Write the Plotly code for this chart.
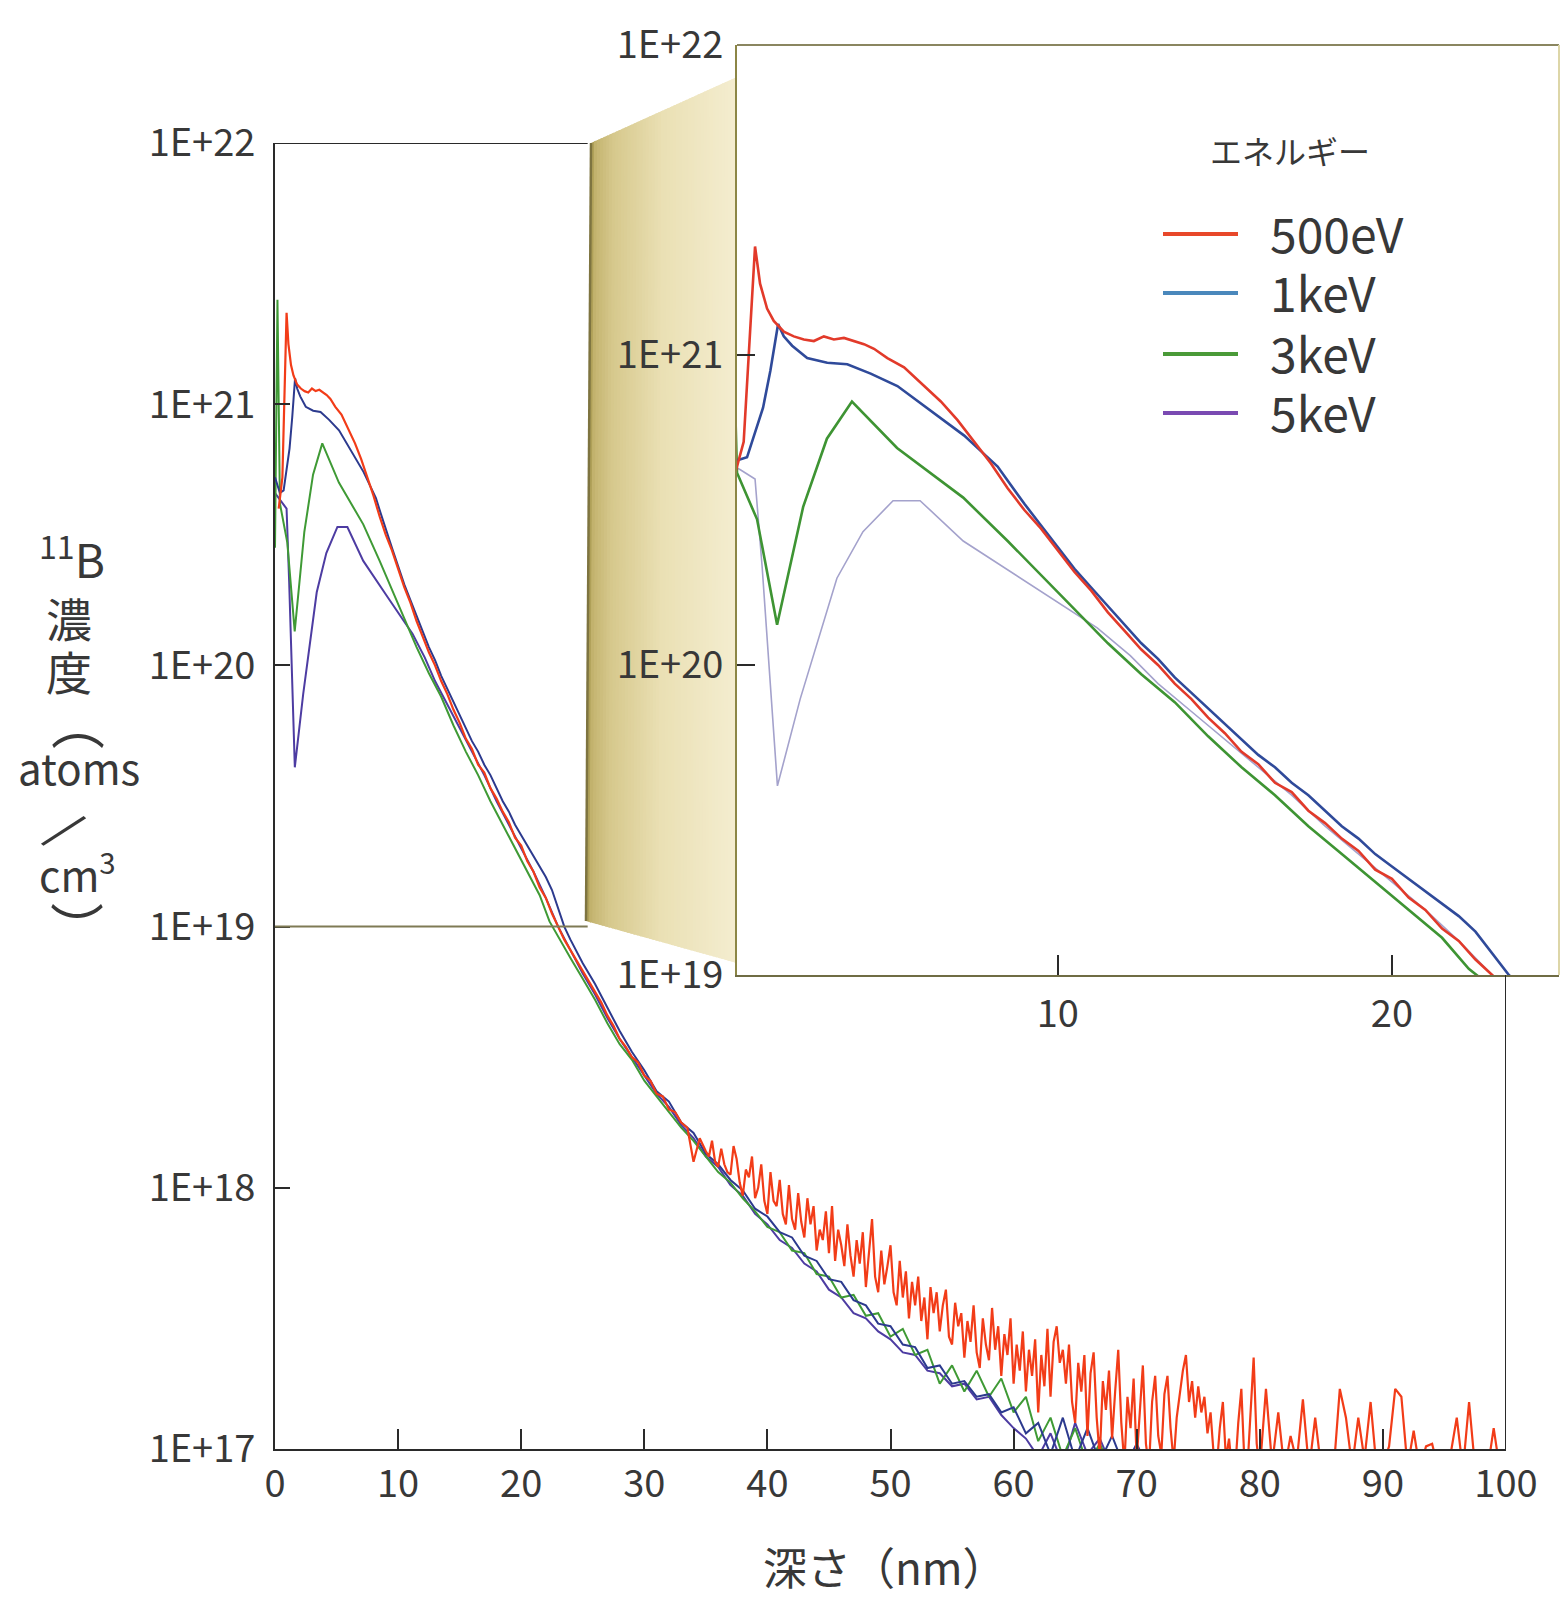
import numpy as np
import plotly.graph_objects as go

# ---------------------------------------------------------------
# 11B depth profiles (SIMS) for four implant energies.
# Each profile: (depth [nm], log10 concentration [atoms/cm3])
# ---------------------------------------------------------------
profile_500eV = [
    (0.3, 20.60), (0.6, 20.72), (0.94, 21.35), (1.09, 21.23), (1.3, 21.15),
    (1.5, 21.11), (1.8, 21.075), (2.1, 21.06), (2.4, 21.05), (2.7, 21.045),
    (3.0, 21.06), (3.3, 21.05), (3.6, 21.055), (3.9, 21.045), (4.2, 21.035),
    (4.5, 21.02), (4.9, 20.99), (5.4, 20.96), (6.0, 20.90), (6.5, 20.85),
    (7.0, 20.79), (7.5, 20.72), (8.0, 20.65), (8.5, 20.57), (9.0, 20.50),
    (9.5, 20.44), (10.0, 20.37), (10.5, 20.30), (11.0, 20.24),
    (11.5, 20.17), (12.0, 20.11), (12.5, 20.05), (13.0, 20.00), (13.5, 19.94),
    (14.0, 19.89), (14.5, 19.83), (15.0, 19.78), (15.5, 19.72), (16.0, 19.68),
    (16.5, 19.62), (17.0, 19.59), (17.5, 19.53), (18.0, 19.49), (18.5, 19.44),
    (19.0, 19.40), (19.5, 19.34), (20.0, 19.31), (20.5, 19.25), (21.0, 19.21),
    (21.5, 19.15), (22.0, 19.11), (22.5, 19.05), (23.0, 19.00), (23.5, 18.95),
    (24.0, 18.91), (24.5, 18.87), (25.0, 18.83), (25.5, 18.79), (26.0, 18.75),
    (26.5, 18.71), (27.0, 18.66), (27.5, 18.62), (28.0, 18.57), (28.5, 18.54),
    (29.0, 18.50), (29.5, 18.48), (30.0, 18.43), (30.5, 18.41), (31.0, 18.36),
    (31.5, 18.35), (32.0, 18.30), (32.5, 18.29), (33.0, 18.25), (33.5, 18.23),
    (34.0, 18.10), (34.5, 18.19),
    (35.00, 18.14), (35.25, 18.12), (35.50, 18.18), (35.75, 18.10),
    (36.00, 18.08), (36.25, 18.15), (36.50, 18.09), (36.75, 18.06),
    (37.00, 18.05), (37.25, 18.16), (37.50, 18.11), (37.75, 18.02),
    (38.00, 17.97), (38.25, 18.07), (38.50, 18.04), (38.75, 18.12),
    (39.00, 17.96), (39.25, 18.00), (39.50, 18.09), (39.75, 17.95),
    (40.00, 17.90), (40.25, 18.06), (40.50, 17.95), (40.75, 17.93),
    (41.00, 18.03), (41.25, 17.90), (41.50, 17.86), (41.75, 18.01),
    (42.00, 17.88), (42.25, 17.84), (42.50, 17.98), (42.75, 17.87),
    (43.00, 17.81), (43.25, 17.96), (43.50, 17.86), (43.75, 17.93),
    (44.00, 17.76), (44.25, 17.84), (44.50, 17.80), (44.75, 17.91),
    (45.00, 17.75), (45.25, 17.93), (45.50, 17.72), (45.75, 17.84),
    (46.00, 17.78), (46.25, 17.70), (46.50, 17.86), (46.75, 17.74),
    (47.00, 17.66), (47.25, 17.80), (47.50, 17.71), (47.75, 17.83),
    (48.00, 17.62), (48.25, 17.74), (48.50, 17.88), (48.75, 17.66),
    (49.00, 17.60), (49.25, 17.76), (49.50, 17.63), (49.75, 17.70),
    (50.00, 17.78), (50.25, 17.60), (50.50, 17.55), (50.75, 17.72),
    (51.00, 17.58), (51.25, 17.68), (51.50, 17.50), (51.75, 17.64),
    (52.00, 17.55), (52.25, 17.66), (52.50, 17.49), (52.75, 17.58),
    (53.00, 17.42), (53.25, 17.62), (53.50, 17.52), (53.75, 17.60),
    (54.00, 17.45), (54.25, 17.55), (54.50, 17.61), (54.75, 17.43),
    (55.00, 17.40), (55.25, 17.56), (55.50, 17.47), (55.75, 17.52),
    (56.00, 17.35), (56.25, 17.49), (56.50, 17.41), (56.75, 17.55),
    (57.00, 17.37), (57.25, 17.31), (57.50, 17.50), (57.75, 17.40),
    (58.00, 17.34), (58.25, 17.54), (58.50, 17.38), (58.75, 17.47),
    (59.00, 17.28), (59.25, 17.44), (59.50, 17.36), (59.75, 17.50),
    (60.00, 17.25), (60.25, 17.40), (60.50, 17.30), (60.75, 17.45),
    (61.00, 17.22), (61.25, 17.38), (61.50, 17.28), (61.75, 17.42),
    (62.00, 17.14), (62.25, 17.36), (62.50, 17.24), (62.75, 17.46),
    (63.00, 17.20), (63.25, 17.41), (63.50, 17.47), (63.75, 17.33),
    (64.00, 17.38), (64.25, 17.25), (64.50, 17.40), (64.75, 17.18),
    (65.00, 17.10), (65.25, 17.33), (65.50, 17.22), (65.75, 17.36),
    (66.00, 17.05), (66.25, 17.29), (66.50, 17.37), (66.75, 17.12),
    (67.00, 16.97), (67.25, 17.26), (67.50, 17.15), (67.75, 17.30),
    (68.00, 17.04), (68.25, 17.22), (68.50, 17.38), (68.75, 17.10),
    (69.00, 16.94), (69.25, 17.20), (69.50, 17.08), (69.75, 17.27),
    (70.00, 16.96), (70.25, 17.14), (70.50, 17.32), (70.75, 17.02),
    (71.00, 16.93), (71.25, 17.18), (71.50, 17.28), (71.75, 17.05),
    (72.00, 16.98), (72.25, 17.21), (72.50, 17.28), (72.75, 17.08),
    (73.00, 16.95), (73.25, 17.12), (73.50, 17.22), (73.75, 17.30),
    (74.00, 17.36), (74.25, 17.18), (74.50, 17.26), (74.75, 17.12),
    (75.00, 17.24), (75.25, 17.14), (75.50, 17.20), (75.75, 17.06),
    (76.00, 17.14), (76.25, 16.98), (76.50, 16.93), (76.75, 17.08),
    (77.00, 17.18), (77.25, 16.96), (77.50, 17.04), (77.75, 16.92),
    (78.00, 16.92), (78.25, 17.10), (78.50, 17.23), (78.75, 16.95),
    (79.00, 16.93), (79.25, 17.12), (79.50, 17.35), (79.75, 17.02),
    (80.0, 16.92), (80.5, 17.23), (81.0, 16.94),
    (81.5, 17.14), (82.0, 16.92), (82.5, 17.05), (83.0, 16.95), (83.5, 17.19),
    (84.0, 16.92), (84.5, 17.12), (85.0, 16.92), (85.5, 16.98), (86.0, 16.92),
    (86.5, 17.23), (87.0, 17.12), (87.5, 16.93), (88.0, 17.12), (88.5, 16.96),
    (89.0, 17.18), (89.5, 16.92), (90.0, 16.94), (90.5, 17.01), (91.0, 17.23),
    (91.5, 17.20), (92.0, 16.93), (92.5, 17.07), (93.0, 16.92), (93.5, 17.01),
    (94.0, 17.02), (94.5, 16.92), (95.0, 16.92), (95.5, 16.98), (96.0, 17.12),
    (96.5, 16.92), (97.0, 17.18), (97.5, 16.92), (98.0, 16.95), (98.5, 16.92),
    (99.0, 17.08), (99.5, 16.92), (100.0, 16.95),
]

profile_1keV = [
    (0.0, 20.72), (0.4, 20.66), (0.7, 20.67), (1.18, 20.83), (1.4, 20.95),
    (1.63, 21.10), (1.8, 21.06), (2.05, 21.03), (2.5, 20.99), (3.1, 20.975),
    (3.7, 20.97), (4.4, 20.94), (5.2, 20.90), (5.7, 20.86), (6.2, 20.82),
    (6.7, 20.78), (7.2, 20.74), (7.7, 20.69), (8.2, 20.64), (8.6, 20.58),
    (9.0, 20.52), (9.5, 20.45), (10.0, 20.38), (10.5, 20.31), (11.0, 20.25),
    (11.5, 20.19), (12.0, 20.13), (12.5, 20.07), (13.0, 20.02), (13.5, 19.96),
    (14.0, 19.91), (14.5, 19.86), (15.0, 19.81), (15.5, 19.76), (16.0, 19.71),
    (16.5, 19.67), (17.0, 19.62), (17.5, 19.58), (18.0, 19.53), (18.5, 19.48),
    (19.0, 19.44), (19.5, 19.39), (20.0, 19.35), (20.5, 19.31), (21.0, 19.27),
    (21.5, 19.23), (22.0, 19.19), (22.5, 19.14), (23.0, 19.07), (23.5, 19.00),
    (24.0, 18.95), (25.0, 18.86), (26.0, 18.78), (27.0, 18.69), (28.0, 18.60),
    (29.0, 18.52), (30.0, 18.45), (31.0, 18.37), (32.0, 18.33), (33.0, 18.25),
    (34.0, 18.21), (35.0, 18.13), (36.0, 18.09), (37.0, 18.03), (38.0, 17.99),
    (39.0, 17.92), (40.0, 17.89), (41.0, 17.83), (42.0, 17.81), (43.0, 17.74),
    (44.0, 17.72), (45.0, 17.65), (46.0, 17.64), (47.0, 17.57), (48.0, 17.55),
    (49.0, 17.48), (50.0, 17.47), (51.0, 17.40), (52.0, 17.39), (53.0, 17.31),
    (54.0, 17.32), (55.0, 17.25), (56.0, 17.26), (57.0, 17.20), (58.0, 17.21),
    (59.0, 17.14), (60.0, 17.16), (61.0, 17.06), (62.0, 17.10), (63.0, 16.98),
    (64.0, 17.12), (65.0, 16.96), (66.0, 17.08), (67.0, 16.95), (68.0, 17.05),
    (69.0, 16.93), (70.0, 17.02), (71.0, 16.92),
]

profile_3keV = [
    (0.0, 20.45), (0.2, 21.40), (0.4, 20.62), (1.0, 20.47), (1.6, 20.13),
    (2.38, 20.51), (3.09, 20.73), (3.84, 20.85), (5.19, 20.70), (7.17, 20.54),
    (8.5, 20.40), (9.5, 20.29), (10.5, 20.18), (11.5, 20.07),
    (12.5, 19.97), (13.5, 19.88), (14.5, 19.77), (15.5, 19.67), (16.5, 19.58),
    (17.5, 19.48), (18.5, 19.39), (19.5, 19.30), (20.5, 19.21), (21.5, 19.12),
    (22.3, 19.02), (23.0, 18.96), (24.0, 18.88), (25.0, 18.80), (26.0, 18.72),
    (27.0, 18.63), (28.0, 18.55), (29.0, 18.49), (30.0, 18.41), (31.0, 18.35),
    (32.0, 18.29), (33.0, 18.23), (34.0, 18.18), (35.0, 18.12), (36.0, 18.06),
    (37.0, 18.02), (38.0, 17.96), (39.0, 17.91), (40.0, 17.85), (41.0, 17.83),
    (42.0, 17.76), (43.0, 17.75), (44.0, 17.67), (45.0, 17.66), (46.0, 17.58),
    (47.0, 17.59), (48.0, 17.51), (49.0, 17.52), (50.0, 17.43), (51.0, 17.46),
    (52.0, 17.36), (53.0, 17.38), (54.0, 17.25), (55.0, 17.32), (56.0, 17.22),
    (57.0, 17.30), (58.0, 17.20), (59.0, 17.27), (60.0, 17.14), (61.0, 17.20),
    (62.0, 17.03), (63.0, 17.12), (64.0, 16.97), (65.0, 17.08), (66.0, 16.94),
    (67.0, 17.02), (68.0, 16.92),
]

profile_5keV = [
    (0.0, 20.66), (0.5, 20.63), (0.94, 20.60), (1.15, 20.32), (1.61, 19.61),
    (2.29, 19.89), (3.39, 20.28), (4.17, 20.43), (5.07, 20.53), (5.88, 20.53),
    (7.17, 20.40), (9.17, 20.26), (11.18, 20.12), (12.17, 20.03), (13.0, 19.94),
    (14.0, 19.85), (15.0, 19.76), (16.0, 19.67), (17.0, 19.58), (18.0, 19.48),
    (19.0, 19.39), (20.0, 19.30), (21.0, 19.21), (22.0, 19.11), (23.0, 19.00),
    (24.0, 18.91), (25.0, 18.82), (26.0, 18.74), (27.0, 18.65), (28.0, 18.57),
    (29.0, 18.50), (30.0, 18.43), (31.0, 18.36), (32.0, 18.31), (33.0, 18.24),
    (34.0, 18.19), (35.0, 18.12), (36.0, 18.08), (37.0, 18.01), (38.0, 17.97),
    (39.0, 17.90), (40.0, 17.86), (41.0, 17.80), (42.0, 17.77), (43.0, 17.71),
    (44.0, 17.68), (45.0, 17.61), (46.0, 17.58), (47.0, 17.52), (48.0, 17.50),
    (49.0, 17.45), (50.0, 17.42), (51.0, 17.37), (52.0, 17.36), (53.0, 17.30),
    (54.0, 17.29), (55.0, 17.24), (56.0, 17.25), (57.0, 17.19), (58.0, 17.20),
    (59.0, 17.13), (60.0, 17.08), (61.0, 17.04), (62.0, 16.97), (63.0, 17.06),
    (64.0, 16.94), (65.0, 17.10), (66.0, 16.98), (67.0, 17.04), (68.0, 16.93),
]

energies = ["500eV", "1keV", "3keV", "5keV"]
profiles = [profile_500eV, profile_1keV, profile_3keV, profile_5keV]

main_colors = ["#f23c18", "#2c3a8e", "#3f9a35", "#4d3ca2"]
main_widths = [2.2, 2, 2, 2]
inset_colors = ["#e23a2a", "#2f4a9a", "#3e9433", "#a4a2cc"]
inset_widths = [2.6, 2.6, 2.6, 1.6]
legend_colors = ["#e8482a", "#4a88bc", "#4a9a38", "#7a4ab2"]

y_tick_vals = [1e17, 1e18, 1e19, 1e20, 1e21, 1e22]
y_tick_text = ["1E+17", "1E+18", "1E+19", "1E+20", "1E+21", "1E+22"]
x_tick_vals = [0, 10, 20, 30, 40, 50, 60, 70, 80, 90, 100]
inset_y_vals = [1e19, 1e20, 1e21, 1e22]
inset_y_text = ["1E+19", "1E+20", "1E+21", "1E+22"]
inset_x_vals = [10, 20]

# zoomed window (depth nm, concentration)
zoom_depth = (0, 25.4)
zoom_conc = (1e19, 1e22)
inset_depth_range = [0.4, 25]

# ---------------------------------------------------------------
W, H = 1563, 1598
FONT = "Noto Sans CJK JP"
INK = "#383838"


def px(x):
    return x / W


def py(y):
    return 1 - y / H


fig = go.Figure()

# main panel: deepest energy first so the 500 eV trace sits on top
for i in [3, 2, 1, 0]:
    d, c = zip(*profiles[i])
    fig.add_trace(go.Scatter(
        x=list(d), y=10 ** np.array(c), mode="lines",
        line=dict(color=main_colors[i], width=main_widths[i]),
        name=energies[i], showlegend=False, xaxis="x", yaxis="y"))

# inset panel: same data, zoomed window
for i in [3, 2, 1, 0]:
    d, c = zip(*profiles[i])
    fig.add_trace(go.Scatter(
        x=list(d), y=10 ** np.array(c), mode="lines",
        line=dict(color=inset_colors[i], width=inset_widths[i]),
        name=energies[i], showlegend=False, xaxis="x2", yaxis="y2"))

tick_font = dict(family=FONT, size=38, color=INK)

fig.update_layout(
    width=W, height=H,
    margin=dict(l=0, r=0, t=0, b=0, pad=0, autoexpand=False),
    paper_bgcolor="white", plot_bgcolor="rgba(0,0,0,0)",
    xaxis=dict(
        domain=[px(275), px(1506)], range=[0, 100], anchor="y",
        tickvals=x_tick_vals, ticks="inside", ticklen=20, tickwidth=2,
        tickcolor="#2a2a2a", showline=True, linecolor="#2a2a2a", linewidth=2,
        showgrid=False, zeroline=False, tickfont=tick_font,
        ticklabelstandoff=0, automargin=False,
    ),
    yaxis=dict(
        domain=[py(1449), py(143)], type="log", range=[17, 22], anchor="x",
        tickvals=y_tick_vals, ticktext=y_tick_text, ticks="inside",
        ticklen=15, tickwidth=2, tickcolor="#2a2a2a",
        showline=True, linecolor="#2a2a2a", linewidth=2,
        showgrid=False, zeroline=False, tickfont=tick_font,
        ticklabelstandoff=10, automargin=False,
    ),
    xaxis2=dict(
        domain=[px(737), px(1559)], range=inset_depth_range, anchor="y2",
        tickvals=inset_x_vals, ticks="inside", ticklen=20, tickwidth=2,
        tickcolor="#2a2a2a", showline=True, linecolor="#6f6c44", linewidth=2,
        showgrid=False, zeroline=False, tickfont=tick_font,
        ticklabelstandoff=4, automargin=False,
    ),
    yaxis2=dict(
        domain=[py(975), py(45)], type="log", range=[19, 22], anchor="x2",
        tickvals=inset_y_vals, ticktext=inset_y_text, ticks="inside",
        ticklen=18, tickwidth=2, tickcolor="#2a2a2a",
        showline=True, linecolor="#8c8646", linewidth=2,
        showgrid=False, zeroline=False, tickfont=tick_font,
        ticklabelstandoff=4, automargin=False,
    ),
)

shapes = []

# gold connector between the zoom box and the inset, built from strips
ax0, ay0 = 591, 143   # top-left
bx0, by0 = 737, 77    # top-right
dx0, dy0 = 586, 921   # bottom-left
cx0, cy0 = 737, 963   # bottom-right
stops = [(0.0, (160, 146, 70)), (0.04, (196, 180, 112)),
         (0.16, (214, 200, 140)), (0.5, (234, 224, 180)),
         (1.0, (244, 237, 208))]


def gold(t):
    for (t0, c0), (t1, c1) in zip(stops[:-1], stops[1:]):
        if t <= t1:
            f = (t - t0) / (t1 - t0)
            return "rgb(%d,%d,%d)" % tuple(round(a + (b - a) * f) for a, b in zip(c0, c1))
    return "rgb(%d,%d,%d)" % stops[-1][1]


N = 48
for k in range(N):
    t0, t1 = k / N, min(1.0, (k + 1.6) / N)
    xt0 = ax0 + (bx0 - ax0) * t0
    xt1 = ax0 + (bx0 - ax0) * t1
    yt0 = ay0 + (by0 - ay0) * t0
    yt1 = ay0 + (by0 - ay0) * t1
    xb0 = dx0 + (cx0 - dx0) * t0
    xb1 = dx0 + (cx0 - dx0) * t1
    yb0 = dy0 + (cy0 - dy0) * t0
    yb1 = dy0 + (cy0 - dy0) * t1
    path = "M %f %f L %f %f L %f %f L %f %f Z" % (
        px(xt0), py(yt0), px(xt1), py(yt1), px(xb1), py(yb1), px(xb0), py(yb0))
    shapes.append(dict(type="path", xref="paper", yref="paper", path=path,
                       fillcolor=gold((t0 + t1) / 2), line=dict(width=0),
                       layer="below"))

# dark edge of the connector (right side of the zoom box)
shapes.append(dict(type="line", xref="paper", yref="paper",
                   x0=px(ax0), y0=py(ay0), x1=px(dx0), y1=py(dy0),
                   line=dict(color="#7e7440", width=2.5), layer="below"))

# zoom box top and bottom edges on the main axes
shapes.append(dict(type="line", xref="x", yref="y",
                   x0=zoom_depth[0], x1=zoom_depth[1], y0=zoom_conc[1], y1=zoom_conc[1],
                   line=dict(color="#2a2a2a", width=2)))
shapes.append(dict(type="line", xref="x", yref="y",
                   x0=zoom_depth[0], x1=zoom_depth[1], y0=zoom_conc[0], y1=zoom_conc[0],
                   line=dict(color="#7f7a55", width=2)))

# right edge of the main panel up to the inset
shapes.append(dict(type="line", xref="x", yref="paper",
                   x0=100, x1=100, y0=py(1449), y1=py(975),
                   line=dict(color="#2a2a2a", width=2)))

# inset top and right borders
shapes.append(dict(type="line", xref="paper", yref="paper",
                   x0=px(737), x1=px(1559), y0=py(45), y1=py(45),
                   line=dict(color="#8a8660", width=2)))
shapes.append(dict(type="line", xref="paper", yref="paper",
                   x0=px(1559), x1=px(1559), y0=py(45), y1=py(975),
                   line=dict(color="#ddd6a8", width=2)))

# legend swatches
legend_y = [234, 293, 354, 413]
for col, yy in zip(legend_colors, legend_y):
    shapes.append(dict(type="line", xref="paper", yref="paper",
                       x0=px(1163), x1=px(1238), y0=py(yy), y1=py(yy),
                       line=dict(color=col, width=4)))

fig.update_layout(shapes=shapes)

ann = []


def text(s, x, y, size, xanchor="center", angle=0):
    ann.append(dict(text=s, x=px(x), y=py(y), xref="paper", yref="paper",
                    showarrow=False, xanchor=xanchor, yanchor="middle",
                    textangle=angle,
                    font=dict(family=FONT, size=size, color=INK)))


# legend
text("エネルギー", 1290, 150, 32)
for name, yy in zip(energies, legend_y):
    text(name, 1268, yy - 2, 48, xanchor="left")

# axis titles
text("深さ（nm）", 885, 1566, 44)
text("<sup>11</sup>B", 72, 556, 46)
text("濃", 69, 617, 46)
text("度", 69, 670, 46)
text("︵", 78, 720, 54)
text("atoms", 79, 766, 42)
text("/", 68, 826, 50, angle=40)
text("cm<sup>3</sup>", 77, 872, 42)
text("︶", 77, 926, 54)

fig.update_layout(annotations=ann)

fig.write_html("out.html")
